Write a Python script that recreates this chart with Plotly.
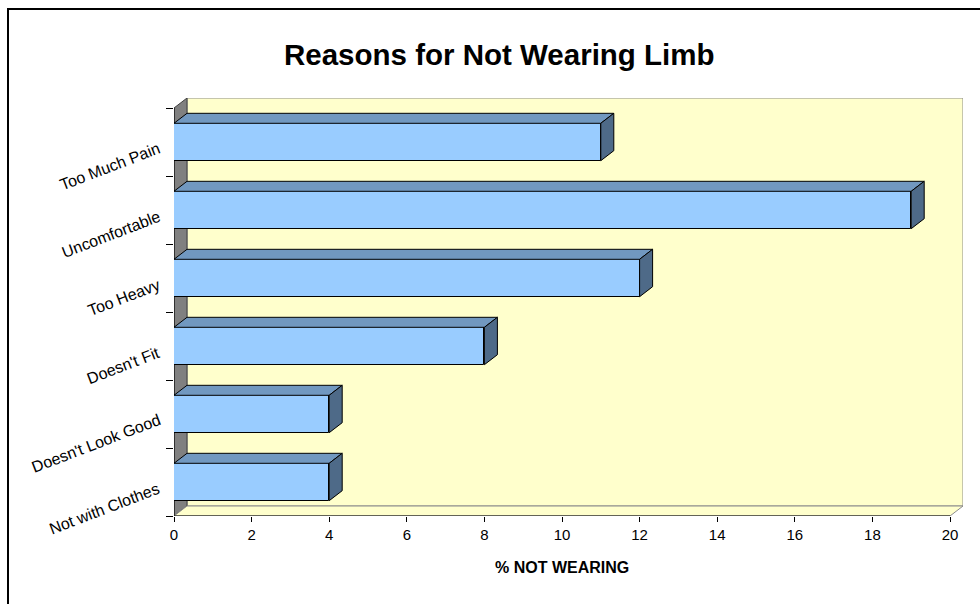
import plotly.graph_objects as go

# Data (bottom to top)
categories = ["Not with Clothes", "Doesn't Look Good", "Doesn't Fit",
              "Too Heavy", "Uncomfortable", "Too Much Pain"]
pct_not_wearing = [4, 4, 8, 12, 19, 11]
x_ticks = [0, 2, 4, 6, 8, 10, 12, 14, 16, 18, 20]

title_text = "Reasons for Not Wearing Limb"
x_title = "% NOT WEARING"

# Layout geometry
W, H = 980, 604
ML, MR, MT, MB = 174, 17, 98, 88
XMAX = 20
DX = 0.335          # depth offset along x (data units)
DY = 0.147          # depth offset along y (category units)
BAR_W = 0.55
FONT = "Liberation Sans, Arial, sans-serif"

FRONT = "#99CCFF"
TOP = "#7198C0"
SIDE = "#4E6A88"
WALL = "#FFFFCC"
SIDEWALL = "#808080"

pw = W - ML - MR
ph = H - MT - MB


def px_to_paper_x(px):
    return (px - ML) / pw


def px_to_paper_y(py):
    return (H - MB - py) / ph


fig = go.Figure()

ylo, yhi = -0.5, len(categories) - 0.5

# back wall, side wall and floor
shapes = [
    dict(type="rect", xref="x", yref="y", x0=DX, x1=XMAX + DX,
         y0=ylo + DY, y1=yhi + DY, fillcolor=WALL,
         line=dict(color="#8C8C8C", width=1), layer="below"),
    dict(type="path", xref="x", yref="y",
         path=f"M 0 {ylo} L {DX} {ylo + DY} L {DX} {yhi + DY} L 0 {yhi} Z",
         fillcolor=SIDEWALL, line=dict(color="#404040", width=1), layer="below"),
    dict(type="path", xref="x", yref="y",
         path=f"M 0 {ylo} L {XMAX} {ylo} L {XMAX + DX} {ylo + DY} L {DX} {ylo + DY} Z",
         fillcolor=WALL, line=dict(color="#8C8C8C", width=1), layer="below"),
    # front edges (axis lines)
    dict(type="line", xref="x", yref="y", x0=0, x1=XMAX, y0=ylo, y1=ylo,
         line=dict(color="#000000", width=1), layer="below"),
    dict(type="line", xref="x", yref="y", x0=0, x1=0, y0=ylo, y1=yhi,
         line=dict(color="#000000", width=1), layer="below"),
    # outer chart border
    dict(type="rect", xref="paper", yref="paper",
         x0=px_to_paper_x(8), x1=px_to_paper_x(995),
         y0=px_to_paper_y(615), y1=px_to_paper_y(9),
         line=dict(color="#000000", width=2), fillcolor="rgba(0,0,0,0)"),
]

# top and side faces of each 3D bar
for i, v in enumerate(pct_not_wearing):
    yt = i + BAR_W / 2
    yb = i - BAR_W / 2
    fig.add_trace(go.Scatter(
        x=[0, v, v + DX, DX, 0], y=[yt, yt, yt + DY, yt + DY, yt],
        mode="lines", fill="toself", fillcolor=TOP,
        line=dict(color="#000000", width=1), hoverinfo="skip", showlegend=False))
    fig.add_trace(go.Scatter(
        x=[v, v + DX, v + DX, v, v], y=[yb, yb + DY, yt + DY, yt, yb],
        mode="lines", fill="toself", fillcolor=SIDE,
        line=dict(color="#000000", width=1), hoverinfo="skip", showlegend=False))

# front faces
fig.add_trace(go.Bar(
    x=pct_not_wearing, y=list(range(len(categories))), orientation="h",
    width=BAR_W, marker=dict(color=FRONT, line=dict(color="#000000", width=1)),
    showlegend=False, hovertext=categories))

annotations = []
for i, c in enumerate(categories):
    annotations.append(dict(
        x=0, y=i, xref="x", yref="y", text=c, showarrow=False,
        xanchor="right", yanchor="top", xshift=-9, yshift=5, textangle=-21,
        font=dict(family=FONT, size=16, color="#000000")))

annotations.append(dict(
    x=px_to_paper_x(499), y=px_to_paper_y(55), xref="paper", yref="paper",
    text=f"<b>{title_text}</b>", showarrow=False, xanchor="center", yanchor="middle",
    font=dict(family=FONT, size=29.5, color="#000000")))
annotations.append(dict(
    x=XMAX / 2, y=px_to_paper_y(567), xref="x", yref="paper",
    text=f"<b>{x_title}</b>", showarrow=False, xanchor="center", yanchor="middle",
    font=dict(family=FONT, size=16, color="#000000")))

fig.update_layout(
    width=W, height=H,
    margin=dict(l=ML, r=MR, t=MT, b=MB, pad=0),
    paper_bgcolor="#FFFFFF", plot_bgcolor="#FFFFFF",
    shapes=shapes, annotations=annotations,
    bargap=0,
    xaxis=dict(range=[0, XMAX + DX], tickvals=x_ticks, ticks="outside", ticklen=5,
               tickcolor="#000000", showgrid=False, zeroline=False, showline=False,
               tickfont=dict(family=FONT, size=15, color="#000000"), fixedrange=True),
    yaxis=dict(range=[ylo, yhi + DY],
               tickvals=[k - 0.5 for k in range(len(categories) + 1)],
               ticks="outside", ticklen=7, tickcolor="#000000",
               showticklabels=False, showgrid=False, zeroline=False, showline=False,
               fixedrange=True),
)

fig.write_html("out.html")
